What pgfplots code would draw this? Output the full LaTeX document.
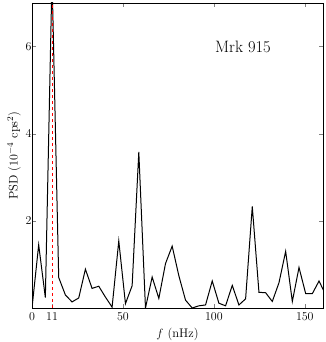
\documentclass[border=0pt]{standalone}
\usepackage{pgfplots}
\pgfplotsset{compat=1.18}
\begin{document}
\begin{tikzpicture}
\begin{axis}[
    scale only axis,
    width=291pt, height=305pt,
    xmin=0, xmax=160, ymin=0, ymax=7,
    xtick={0,11,50,100,150},
    ytick={2,4,6},
    tick align=inside,
    tick pos=both,
    major tick length=4pt,
    tick label style={font=\fontsize{12}{14}\selectfont},
    xticklabel style={yshift=-1pt},
    yticklabel style={xshift=3pt},
    label style={font=\fontsize{12.5}{14}\selectfont},
    xlabel={$f$ (nHz)},
    ylabel={PSD ($10^{-4}$ cps$^2$)},
    xlabel style={yshift=-1pt},
    ylabel style={yshift=-2pt},
    axis line style={line width=0.8pt},
]
\addplot[black, line width=1pt] coordinates {
(0.00,0.00) (3.67,1.45) (7.34,0.24) (11.01,7.6) (14.68,0.70) (18.35,0.30)
(22.02,0.14) (25.69,0.23) (29.36,0.89) (33.03,0.45) (36.70,0.50) (40.37,0.25)
(44.04,0.02) (47.71,1.54) (51.38,0.10) (55.05,0.51) (58.72,3.58) (62.39,0.00)
(66.06,0.71) (69.73,0.22) (73.40,1.02) (77.07,1.42) (80.74,0.74) (84.41,0.18)
(88.08,0.00) (91.75,0.05) (95.42,0.07) (99.09,0.62) (102.76,0.11) (106.43,0.05)
(110.10,0.52) (113.77,0.07) (117.44,0.21) (121.11,2.33) (124.78,0.36) (128.45,0.35)
(132.12,0.15) (135.79,0.58) (139.46,1.30) (143.13,0.15) (146.80,0.93) (150.47,0.33)
(154.14,0.33) (157.81,0.62) (161.48,0.30)
};
\addplot[red, dashed, line width=0.9pt] coordinates {(11,0) (11,7)};
\node[font=\fontsize{16.5}{18}\selectfont] at (axis cs:116,6.0) {Mrk 915};
\end{axis}
\pgfresetboundingbox
\path[use as bounding box] ([shift={(-32pt,-34pt)}]current axis.south west) rectangle ([shift={(2pt,3pt)}]current axis.north east);
\end{tikzpicture}
\end{document}
